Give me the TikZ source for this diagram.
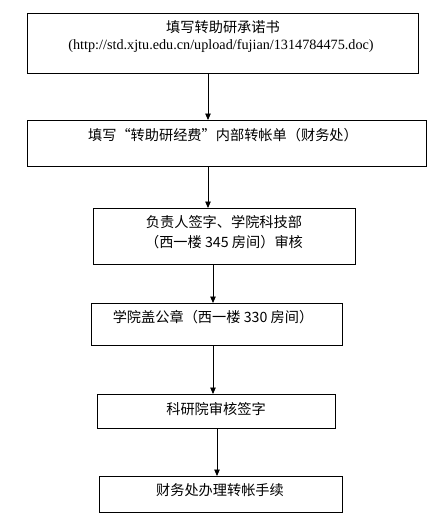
\documentclass[tikz,border=0pt]{standalone}
\usepackage{fontspec}
\setmainfont{Liberation Serif}
\newfontfamily\cjk{Noto Sans CJK SC}
\usetikzlibrary{arrows.meta}
\begin{document}
\begin{tikzpicture}[x=1pt,y=-1pt,
  box/.style={draw,line width=1pt,anchor=north west,inner sep=0pt,minimum width=#1},
  txt/.style={inner sep=0pt,font=\cjk\fontsize{14.2}{16}\selectfont},
  urltxt/.style={inner sep=0pt,font=\fontsize{14.2}{16}\selectfont},
  arr/.style={line width=0.9pt,-{Triangle[width=5.5pt,length=6.5pt]}}]
\useasboundingbox (0,0) rectangle (442,523);
\node[box=391pt,minimum height=60pt] (b1) at (27,13) {};
\node[box=399pt,minimum height=46pt] (b2) at (27,120) {};
\node[box=262pt,minimum height=56pt] (b3) at (93,208) {};
\node[box=251pt,minimum height=42pt] (b4) at (91,303) {};
\node[box=238pt,minimum height=34pt] (b5) at (97,394) {};
\node[box=243pt,minimum height=36pt] (b6) at (99,476) {};
\node[txt] (t1a) at (223,27) {填写转助研承诺书};
\node[urltxt] (t1b) at (221,46) {(http://std.xjtu.edu.cn/upload/fujian/1314784475.doc)};
\node[txt] (t2) at (223,135) {填写“转助研经费”内部转帐单（财务处）};
\node[txt] (t3a) at (224,222) {负责人签字、学院科技部};
\node[txt] (t3b) at (224,242) {（西一楼 345 房间）审核};
\node[txt] (t4) at (213,317) {学院盖公章（西一楼 330 房间）};
\node[txt] (t5) at (216,409) {科研院审核签字};
\node[txt] (t6) at (220,490) {财务处办理转帐手续};
\coordinate (x1) at (208,0);
\coordinate (x3) at (213,0);
\coordinate (x5) at (217,0);
\draw[arr] (b1.south -| x1) -- (b2.north -| x1);
\draw[arr] (b2.south -| x1) -- (b3.north -| x1);
\draw[arr] (b3.south -| x3) -- (b4.north -| x3);
\draw[arr] (b4.south -| x3) -- (b5.north -| x3);
\draw[arr] (b5.south -| x5) -- (b6.north -| x5);
\end{tikzpicture}
\end{document}
